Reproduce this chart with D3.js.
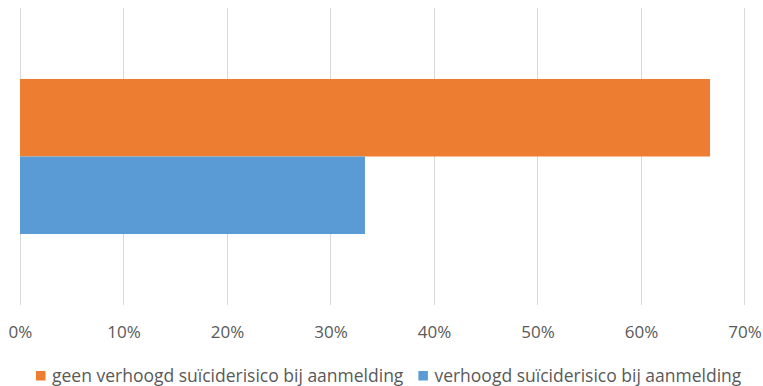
<!DOCTYPE html>
<html>
<head>
<meta charset="utf-8">
<script src="https://cdn.jsdelivr.net/npm/d3@7"></script>
<style>
  html, body { margin: 0; padding: 0; background: #fff; }
  svg { display: block; }
  text { font-family: "Open Sans", "Noto Sans", sans-serif; fill: #595959; }
</style>
</head>
<body>
<svg id="chart" width="763" height="386"></svg>
<script>
const categories = ["aanmelding"];
const seriesNames = ["geen verhoogd suïciderisico bij aanmelding", "verhoogd suïciderisico bij aanmelding"];
const seriesValues = [[0.6667], [0.3333]];
const seriesColors = ["#ED7D31", "#5B9BD5"];
const tickValues = [0, 0.1, 0.2, 0.3, 0.4, 0.5, 0.6, 0.7];

const W = 763, H = 386;
const plot = { left: 20, right: 744.5, top: 8, bottom: 305 };
const svg = d3.select("#chart");

const x = d3.scaleLinear().domain([0, 0.7]).range([plot.left, plot.right]);
const yCat = d3.scaleBand().domain(categories).range([plot.top, plot.bottom]).paddingInner(0.314).paddingOuter(0.314);
const ySer = d3.scaleBand().domain(seriesNames).range([0, yCat.bandwidth()]);

// gridlines
svg.append("g").selectAll("line").data(tickValues).join("line")
  .attr("x1", d => x(d)).attr("x2", d => x(d))
  .attr("y1", plot.top).attr("y2", plot.bottom)
  .attr("stroke", "#D9D9D9").attr("stroke-width", 1)
  .attr("shape-rendering", "crispEdges");

// bars
categories.forEach((c, ci) => {
  svg.append("g").selectAll("rect").data(seriesNames).join("rect")
    .attr("x", x(0))
    .attr("y", s => yCat(c) + ySer(s))
    .attr("width", (s, i) => x(seriesValues[i][ci]) - x(0))
    .attr("height", ySer.bandwidth())
    .attr("fill", (s, i) => seriesColors[i]);
});

// x axis labels
const axis = d3.axisBottom(x).tickValues(tickValues).tickFormat(d3.format(".0%")).tickSize(0).tickPadding(0);
const ax = svg.append("g").attr("transform", `translate(0, 338)`).call(axis);
ax.select(".domain").remove();
ax.selectAll("text").attr("dy", 0).style("font-size", "17px").style("fill", "#595959")
  .attr("font-family", null);

// legend
const legend = svg.append("g");
let lx = 36;
const legendFont = 17.5;
seriesNames.forEach((s, i) => {
  legend.append("rect").attr("x", lx).attr("y", 371).attr("width", 9.5).attr("height", 9.5).attr("fill", seriesColors[i]);
  const t = legend.append("text").attr("x", lx + 16).attr("y", 382).style("font-size", legendFont + "px").text(s);
  const w = t.node().getComputedTextLength();
  lx = lx + 16 + w + 15;
});
</script>
</body>
</html>
